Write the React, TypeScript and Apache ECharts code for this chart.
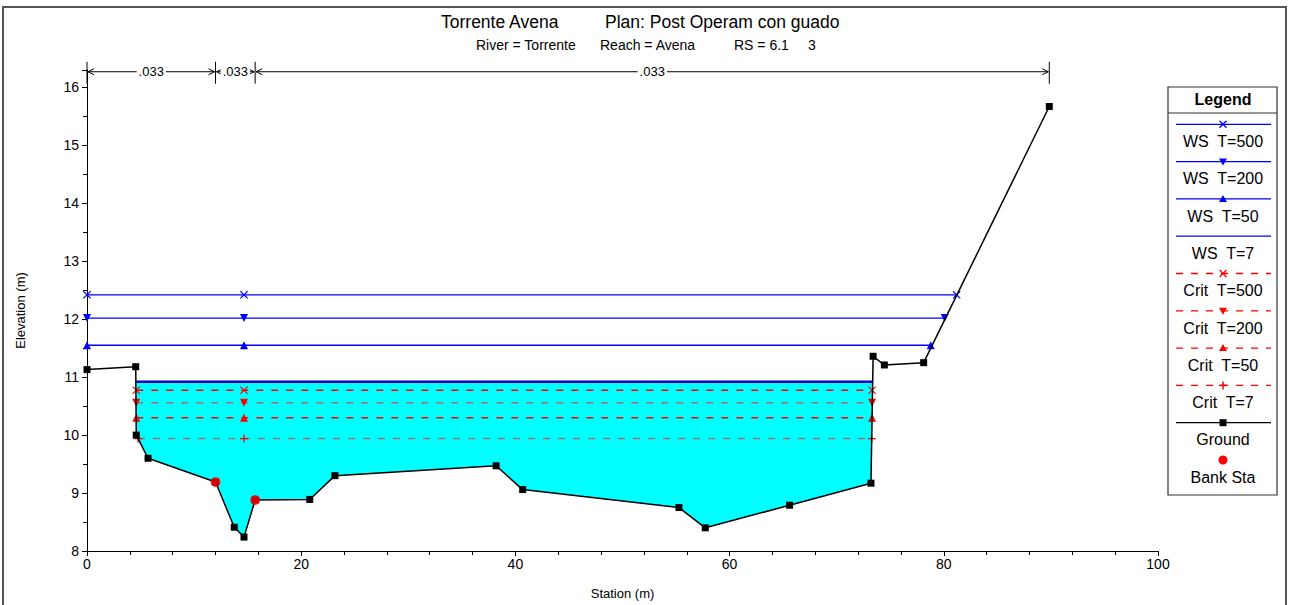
import React, { useEffect, useRef } from "react";
import * as echarts from "echarts";

const FONT = '"Liberation Sans", Arial, Helvetica, sans-serif';

// Ground geometry
const stations = [0, 4.55, 4.6, 5.7, 12.0, 13.75, 14.66, 15.7, 20.8, 23.15, 38.2, 40.68, 55.27, 57.73, 65.6, 73.2, 73.4, 74.45, 78.12, 89.85];
const elevations = [11.13, 11.18, 10.0, 9.6, 9.19, 8.41, 8.24, 8.88, 8.89, 9.3, 9.47, 9.06, 8.75, 8.4, 8.79, 9.17, 11.36, 11.21, 11.25, 15.67];
const bankStations = [12.0, 15.7];
const bankElevations = [9.19, 8.88];

// Water surfaces
const wsNames = ["WS T=500", "WS T=200", "WS T=50", "WS T=7"];
const wsElev = [12.42, 12.02, 11.55, 10.92];
const wsStart = [0, 0, 0, 4.6];
const wsEnd = [81.2, 80.08, 78.78, 73.35];
const markerStation = 14.66;

// Critical depths
const critNames = ["Crit T=500", "Crit T=200", "Crit T=50", "Crit T=7"];
const critElev = [10.775, 10.56, 10.3, 9.94];
const critStart = [4.6, 4.6, 4.6, 4.77];
const critEnd = [73.3, 73.3, 73.3, 73.27];

// Manning's n
const nBreaks = [0, 12.0, 15.7, 89.85];
const nValues = [".033", ".033", ".033"];
const nBarElev = 16.27;

// Axes
const xTicks = [0, 20, 40, 60, 80, 100];
const yTicks = [8, 9, 10, 11, 12, 13, 14, 15, 16];

const X_SYM = "path://M0,1L1,0L5,4L9,0L10,1L6,5L10,9L9,10L5,6L1,10L0,9L4,5Z";
const PLUS_SYM = "path://M4.2,0H5.8V4.2H10V5.8H5.8V10H4.2V5.8H0V4.2H4.2Z";
const wsSymbols = [X_SYM, "triangle", "triangle", "none"];
const wsRot = [0, 180, 0, 0];
const critSymbols = [X_SYM, "triangle", "triangle", PLUS_SYM];
const critRot = [0, 180, 0, 0];
const critColors = ["#ff0000", "#a07070", "#ff0000", "#a07070"];

function legendMarker(kind: string, cx: number, cy: number, color: string) {
  if (kind === "x")
    return [
      { type: "line", shape: { x1: cx - 3.5, y1: cy - 3.5, x2: cx + 3.5, y2: cy + 3.5 }, style: { stroke: color, lineWidth: 1.3 } },
      { type: "line", shape: { x1: cx - 3.5, y1: cy + 3.5, x2: cx + 3.5, y2: cy - 3.5 }, style: { stroke: color, lineWidth: 1.3 } },
    ];
  if (kind === "plus")
    return [
      { type: "line", shape: { x1: cx - 4, y1: cy, x2: cx + 4, y2: cy }, style: { stroke: color, lineWidth: 1.5 } },
      { type: "line", shape: { x1: cx, y1: cy - 4, x2: cx, y2: cy + 4 }, style: { stroke: color, lineWidth: 1.5 } },
    ];
  if (kind === "down")
    return [{ type: "polygon", shape: { points: [[cx - 4, cy - 3], [cx + 4, cy - 3], [cx, cy + 4]] }, style: { fill: color } }];
  if (kind === "up")
    return [{ type: "polygon", shape: { points: [[cx - 4, cy + 3], [cx + 4, cy + 3], [cx, cy - 4]] }, style: { fill: color } }];
  if (kind === "square")
    return [{ type: "rect", shape: { x: cx - 3.5, y: cy - 3.5, width: 7, height: 7 }, style: { fill: color } }];
  if (kind === "circle")
    return [{ type: "circle", shape: { cx, cy, r: 4.5 }, style: { fill: color } }];
  return [];
}

const legendItems = [
  { name: wsNames[0], color: "#0000ff", dash: false, marker: "x", line: true },
  { name: wsNames[1], color: "#0000ff", dash: false, marker: "down", line: true },
  { name: wsNames[2], color: "#0000ff", dash: false, marker: "up", line: true },
  { name: wsNames[3], color: "#0000ff", dash: false, marker: "", line: true },
  { name: critNames[0], color: "#ff0000", dash: true, marker: "x", line: true },
  { name: critNames[1], color: "#ff0000", dash: true, marker: "down", line: true },
  { name: critNames[2], color: "#ff0000", dash: true, marker: "up", line: true },
  { name: critNames[3], color: "#ff0000", dash: true, marker: "plus", line: true },
  { name: "Ground", color: "#000000", dash: false, marker: "square", line: true },
  { name: "Bank Sta", color: "#ff0000", dash: false, marker: "circle", line: false },
];

function txt(text: string, x: number, y: number, size: number, align = "left", weight = "normal") {
  return {
    type: "text",
    silent: true,
    style: {
      text,
      x,
      y,
      align,
      textAlign: align,
      verticalAlign: "middle",
      textVerticalAlign: "middle",
      font: `${weight} ${size}px ${FONT}`,
      fill: "#000",
    },
  };
}

function buildOption() {
  // cyan fill polygon from the channel ground points and WS T=7
  const fillPts: number[][] = [[wsStart[3], wsElev[3]]];
  for (let i = 2; i <= 15; i++) fillPts.push([stations[i], elevations[i]]);
  fillPts.push([wsEnd[3], wsElev[3]]);

  const series: any[] = [];
  series.push({
    type: "custom",
    name: "fill",
    coordinateSystem: "cartesian2d",
    silent: true,
    z: 1,
    data: fillPts,
    encode: { x: 0, y: 1 },
    renderItem: (params: any, api: any) => {
      if (params.dataIndex !== 0) return null;
      const pts = fillPts.map((p) => api.coord(p));
      return { type: "polygon", shape: { points: pts }, style: { fill: "#00ffff" } };
    },
  });

  critNames.forEach((n, i) => {
    series.push({
      type: "line",
      name: n,
      z: 3,
      data: [[critStart[i], critElev[i]], [markerStation, critElev[i]], [critEnd[i], critElev[i]]],
      symbol: critSymbols[i],
      symbolRotate: critRot[i],
      symbolSize: 8,
      showSymbol: true,
      itemStyle: { color: "#ff0000" },
      lineStyle: { color: critColors[i], width: 1.5, type: [7, 8] },
    });
  });

  wsNames.forEach((n, i) => {
    series.push({
      type: "line",
      name: n,
      z: 4,
      data: [[wsStart[i], wsElev[i]], [markerStation, wsElev[i]], [wsEnd[i], wsElev[i]]],
      symbol: wsSymbols[i],
      symbolRotate: wsRot[i],
      symbolSize: 8,
      showSymbol: wsSymbols[i] !== "none",
      itemStyle: { color: "#0000ff" },
      lineStyle: { color: i === 3 ? "#0000cc" : "#0000ff", width: i === 3 ? 2.5 : 1.3 },
    });
  });

  series.push({
    type: "line",
    name: "Ground",
    z: 5,
    data: stations.map((s, i) => [s, elevations[i]]),
    symbol: "rect",
    symbolSize: 7,
    itemStyle: { color: "#000" },
    lineStyle: { color: "#000", width: 1.5 },
  });

  series.push({
    type: "scatter",
    name: "Bank Sta",
    z: 6,
    data: bankStations.map((s, i) => [s, bankElevations[i]]),
    symbol: "circle",
    symbolSize: 10,
    itemStyle: { color: "#ff0000" },
  });

  // Manning's n annotation
  series.push({
    type: "custom",
    name: "n",
    coordinateSystem: "cartesian2d",
    silent: true,
    clip: false,
    z: 7,
    data: nValues.map((v, i) => [nBreaks[i], nBreaks[i + 1], nBarElev, i]),
    encode: { x: [0, 1], y: 2 },
    renderItem: (params: any, api: any) => {
      const s = api.value(0);
      const e = api.value(1);
      const yv = api.value(2);
      const idx = api.value(3);
      const p1 = api.coord([s, yv]);
      const p2 = api.coord([e, yv]);
      const y = p1[1];
      const st = { stroke: "#000", lineWidth: 1 };
      const children: any[] = [
        { type: "line", shape: { x1: p1[0], y1: y - 10, x2: p1[0], y2: y + 12 }, style: st },
        { type: "line", shape: { x1: p1[0] + 1, y1: y, x2: p2[0] - 1, y2: y }, style: st },
        { type: "polyline", shape: { points: [[p1[0] + 7, y - 3], [p1[0] + 1, y], [p1[0] + 7, y + 3]] }, style: { ...st, fill: null } },
        { type: "polyline", shape: { points: [[p2[0] - 7, y - 3], [p2[0] - 1, y], [p2[0] - 7, y + 3]] }, style: { ...st, fill: null } },
        {
          type: "text",
          style: {
            text: nValues[idx],
            x: (p1[0] + p2[0]) / 2,
            y,
            align: "center",
            verticalAlign: "middle",
            font: `13px ${FONT}`,
            fill: "#000",
            backgroundColor: "#fff",
            padding: [0, 2],
          },
        },
      ];
      if (idx === nValues.length - 1) {
        children.push({ type: "line", shape: { x1: p2[0], y1: y - 10, x2: p2[0], y2: y + 12 }, style: st });
      }
      return { type: "group", children };
    },
  });

  // Legend graphic
  const lx1 = 1176, lx2 = 1271, lcx = 1223;
  const legendChildren: any[] = [
    { type: "rect", shape: { x: 1168, y: 87, width: 109, height: 408 }, style: { fill: "#fff", stroke: "#333", lineWidth: 1.2 } },
    { type: "line", shape: { x1: 1168, y1: 113, x2: 1277, y2: 113 }, style: { stroke: "#333", lineWidth: 1.2 } },
    txt("Legend", lcx, 99, 16, "center", "bold"),
  ];
  legendItems.forEach((it, i) => {
    const ly = 124.3 + i * 37.3;
    const ty = 141.5 + i * 37.3;
    if (it.line) {
      legendChildren.push({
        type: "line",
        shape: { x1: lx1, y1: ly, x2: lx2, y2: ly },
        style: { stroke: it.color, lineWidth: 1.3, lineDash: it.dash ? [7, 8] : null },
      });
    }
    const mColor = it.name.startsWith("WS") ? "#0000ff" : it.name === "Ground" ? "#000" : "#ff0000";
    legendChildren.push(...legendMarker(it.marker, lcx, ly, mColor));
    legendChildren.push(txt(it.name.replace(" T=", "  T="), lcx, ty, 16, "center"));
  });

  return {
    animation: false,
    backgroundColor: "#fff",
    grid: { left: 87, right: 131, top: 70, bottom: 54 },
    xAxis: {
      type: "value",
      min: xTicks[0],
      max: xTicks[xTicks.length - 1],
      interval: 20,
      name: "Station (m)",
      nameLocation: "middle",
      nameGap: 36,
      nameTextStyle: { color: "#000", fontFamily: FONT, fontSize: 13 },
      axisLine: { lineStyle: { color: "#000", width: 1 } },
      axisTick: { show: true, length: 5, lineStyle: { color: "#000" } },
      minorTick: { show: true, splitNumber: 5, length: 4, lineStyle: { color: "#000" } },
      axisLabel: { color: "#000", fontFamily: FONT, fontSize: 14, margin: 6 },
      splitLine: { show: false },
    },
    yAxis: {
      type: "value",
      min: yTicks[0],
      max: 16.3,
      interval: 1,
      name: "Elevation (m)",
      nameLocation: "middle",
      nameGap: 60,
      nameTextStyle: { color: "#000", fontFamily: FONT, fontSize: 13 },
      axisLine: { show: true, lineStyle: { color: "#000", width: 1 } },
      axisTick: { show: true, length: 5, lineStyle: { color: "#000" } },
      minorTick: { show: true, splitNumber: 2, length: 4, lineStyle: { color: "#000" } },
      axisLabel: {
        color: "#000",
        fontFamily: FONT,
        fontSize: 14,
        margin: 8,
        formatter: (v: number) => (yTicks.includes(v) ? String(v) : ""),
      },
      splitLine: { show: false },
    },
    graphic: [
      { type: "rect", silent: true, z: -10, shape: { x: 3, y: 7, width: 1283, height: 640 }, style: { fill: "none", stroke: "#555", lineWidth: 2 } },
      txt("Torrente Avena", 441, 22, 17.5, "left"),
      txt("Plan: Post Operam con guado", 605, 22, 17.5, "left"),
      txt("River = Torrente", 476, 45, 14, "left"),
      txt("Reach = Avena", 600, 45, 14, "left"),
      txt("RS = 6.1", 734, 45, 14, "left"),
      txt("3", 808, 45, 14, "left"),
      { type: "group", children: legendChildren },
    ],
    series,
  };
}

export default function App() {
  const ref = useRef<HTMLDivElement>(null);
  useEffect(() => {
    document.body.style.margin = "0";
    const chart = echarts.init(ref.current!, null, { renderer: "svg" });
    chart.setOption(buildOption() as any);
    return () => chart.dispose();
  }, []);
  return <div ref={ref} style={{ width: 1289, height: 605 }} />;
}
